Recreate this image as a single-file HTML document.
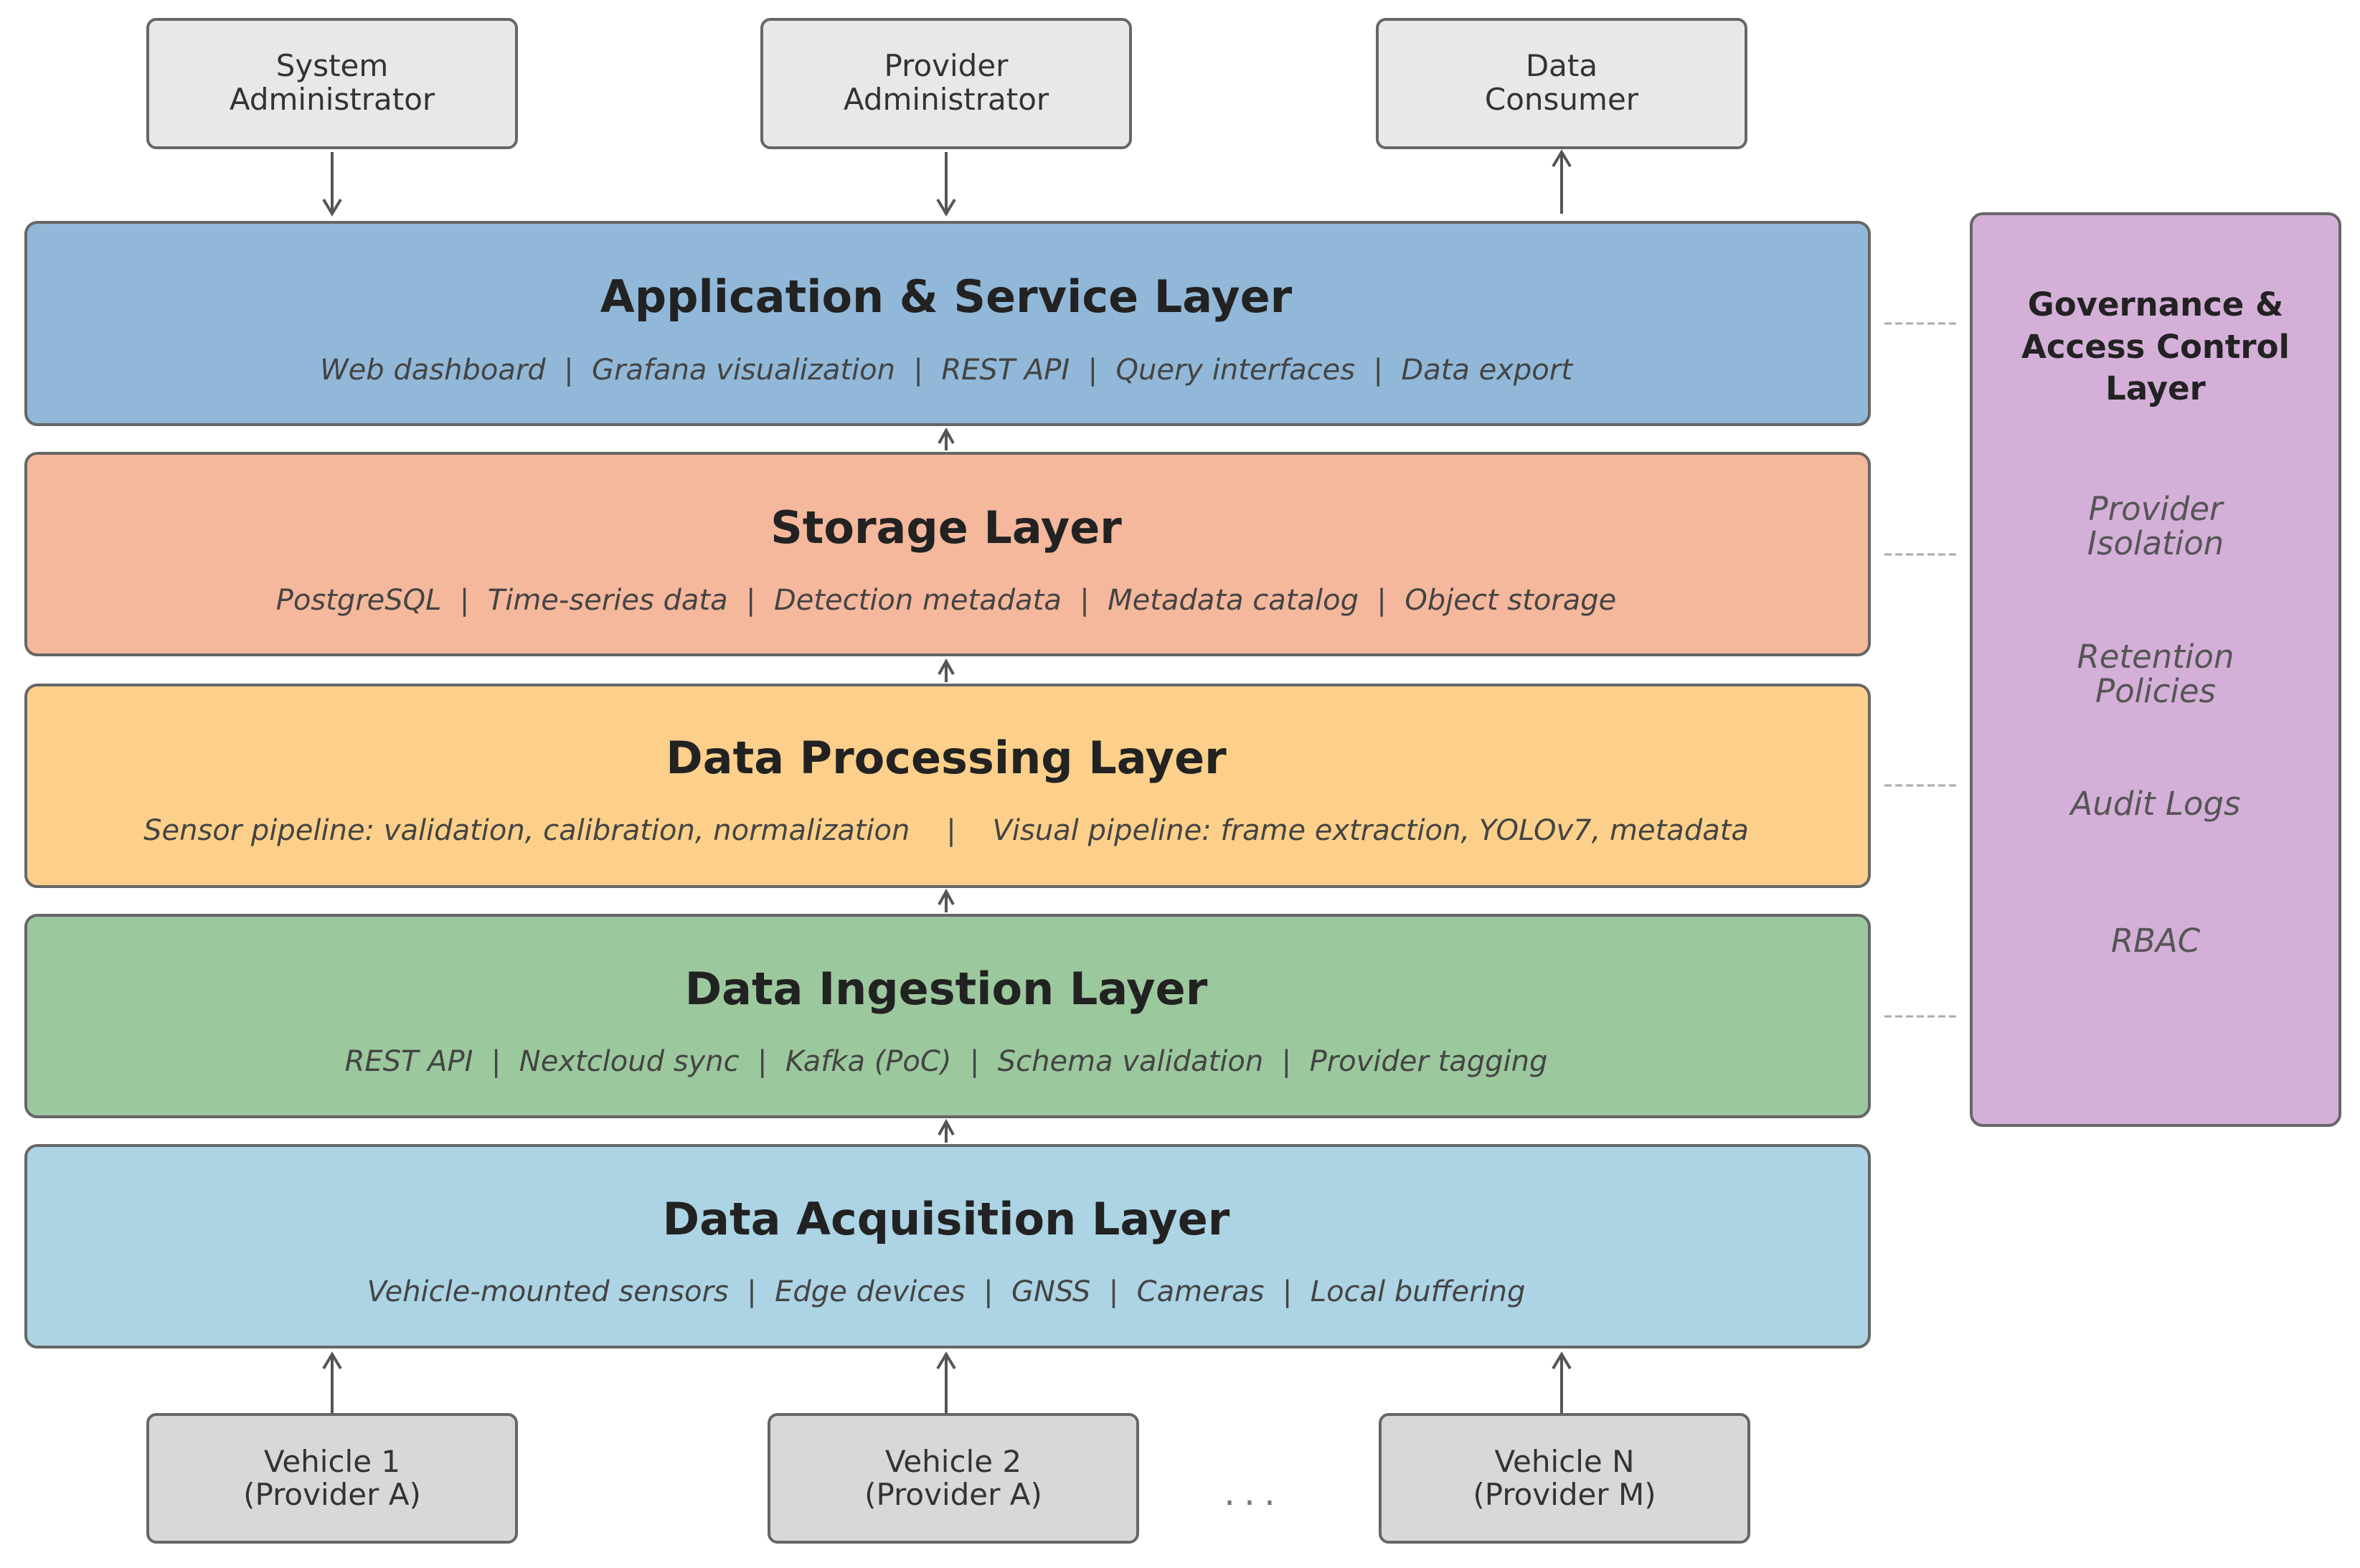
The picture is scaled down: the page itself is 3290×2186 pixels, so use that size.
<!DOCTYPE html>
<html><head><meta charset="utf-8"><style>html,body{margin:0;padding:0;background:#fff}svg{display:block}</style></head><body>
<svg width="3290" height="2186" viewBox="0 0 3290 2186" xmlns="http://www.w3.org/2000/svg" font-family="DejaVu Sans, Liberation Sans, sans-serif">
<defs><marker id="ah" markerWidth="12" markerHeight="12" refX="6" refY="2" orient="auto" markerUnits="userSpaceOnUse"><path d="M0,22" /></marker></defs>
<g stroke="#666" stroke-width="4">
<rect x="206" y="27" width="514" height="179" rx="12" fill="#e8e8e8"/>
<rect x="1062" y="27" width="514" height="179" rx="12" fill="#e8e8e8"/>
<rect x="1920" y="27" width="514" height="179" rx="12" fill="#e8e8e8"/>
<rect x="36" y="310" width="2570" height="282" rx="16" fill="#91b8d8"/>
<rect x="36" y="632" width="2570" height="281" rx="16" fill="#f5b89c"/>
<rect x="36" y="955" width="2570" height="281" rx="16" fill="#fcd08a"/>
<rect x="36" y="1276" width="2570" height="281" rx="16" fill="#9cc89e"/>
<rect x="36" y="1597" width="2570" height="281" rx="16" fill="#acd4e4"/>
<rect x="2748" y="298" width="514" height="1271" rx="16" fill="#d4b0d8"/>
<rect x="206" y="1972" width="514" height="178" rx="12" fill="#d8d8d8"/>
<rect x="1072" y="1972" width="514" height="178" rx="12" fill="#d8d8d8"/>
<rect x="1924" y="1972" width="514" height="178" rx="12" fill="#d8d8d8"/>
</g>
<g stroke="#555" stroke-width="4" fill="none">
<path d="M463 212V298M451 278L463 298L475 278"/>
<path d="M1319 212V298M1307 278L1319 298L1331 278"/>
<path d="M2177 298V212M2165 232L2177 212L2189 232"/>
<path d="M1319 628V600M1309 618L1319 600L1329 618"/>
<path d="M1319 951V922M1309 940L1319 922L1329 940"/>
<path d="M1319 1272V1243M1309 1261L1319 1243L1329 1261"/>
<path d="M1319 1593V1564M1309 1582L1319 1564L1329 1582"/>
<path d="M463 1970V1888M451 1908L463 1888L475 1908"/>
<path d="M1319 1970V1888M1307 1908L1319 1888L1331 1908"/>
<path d="M2177 1970V1888M2165 1908L2177 1888L2189 1908"/>
</g>
<g stroke="#aaa" stroke-width="3" stroke-dasharray="10,5">
<path d="M2627 451H2727M2627 773H2727M2627 1095H2727M2627 1417H2727"/>
</g>
<g fill="#333" font-size="42" text-anchor="middle">
<text x="463" y="106">System</text><text x="463" y="153">Administrator</text>
<text x="1319" y="106">Provider</text><text x="1319" y="153">Administrator</text>
<text x="2177" y="106">Data</text><text x="2177" y="153">Consumer</text>
<text x="463" y="2052">Vehicle 1</text><text x="463" y="2098">(Provider A)</text>
<text x="1329" y="2052">Vehicle 2</text><text x="1329" y="2098">(Provider A)</text>
<text x="2181" y="2052">Vehicle N</text><text x="2181" y="2098">(Provider M)</text>
<text x="1748" y="2098" font-size="50" fill="#777" letter-spacing="12">...</text>
</g>
<g fill="#222" font-size="62" font-weight="bold" text-anchor="middle">
<text x="1319" y="435">Application &amp; Service Layer</text>
<text x="1319" y="757">Storage Layer</text>
<text x="1319" y="1078">Data Processing Layer</text>
<text x="1319" y="1400">Data Ingestion Layer</text>
<text x="1319" y="1721">Data Acquisition Layer</text>
</g>
<g fill="#444" font-size="40" font-style="italic" text-anchor="middle">
<text x="1319" y="529" xml:space="preserve">Web dashboard  |  Grafana visualization  |  REST API  |  Query interfaces  |  Data export</text>
<text x="1319" y="850" xml:space="preserve">PostgreSQL  |  Time-series data  |  Detection metadata  |  Metadata catalog  |  Object storage</text>
<text x="1319" y="1171" xml:space="preserve">Sensor pipeline: validation, calibration, normalization    |    Visual pipeline: frame extraction, YOLOv7, metadata</text>
<text x="1319" y="1493" xml:space="preserve">REST API  |  Nextcloud sync  |  Kafka (PoC)  |  Schema validation  |  Provider tagging</text>
<text x="1319" y="1814" xml:space="preserve">Vehicle-mounted sensors  |  Edge devices  |  GNSS  |  Cameras  |  Local buffering</text>
</g>
<g fill="#222" font-size="45" font-weight="bold" text-anchor="middle">
<text x="3005" y="440">Governance &amp;</text>
<text x="3005" y="499">Access Control</text>
<text x="3005" y="557">Layer</text>
</g>
<g fill="#555" font-size="45" font-style="italic" text-anchor="middle">
<text x="3005" y="725">Provider</text><text x="3005" y="773">Isolation</text>
<text x="3005" y="931">Retention</text><text x="3005" y="979">Policies</text>
<text x="3005" y="1136">Audit Logs</text>
<text x="3005" y="1327">RBAC</text>
</g>
</svg>
</body></html>
